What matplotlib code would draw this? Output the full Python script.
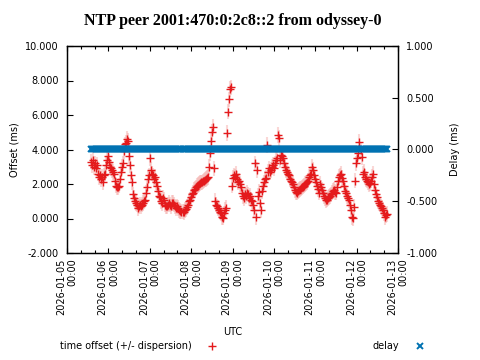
import matplotlib
matplotlib.use("Agg")
import matplotlib.pyplot as plt
import matplotlib.dates as mdates
from matplotlib.ticker import FormatStrFormatter, MultipleLocator
import pandas as pd

# muestreo del peer (cada ~35 min)
inicio = "2026-01-05 13:55"
intervalo = "35min"

# offset en ms
offset = [
    3.3, 3.1, 3.4, 3.0, 3.2, 2.9, 3.1, 2.6, 2.4, 2.5, 2.3, 2.4, 2.1, 2.5, 2.6, 3.1,
    3.4, 3.6, 3.3, 3.0, 2.9, 2.8, 2.7, 2.6, 2.2, 1.9, 1.8, 1.8, 1.9, 2.3, 2.7, 3.0,
    3.2, 3.9, 4.3, 4.4, 4.6, 4.5, 3.6, 3.1, 2.5, 2.1, 1.4, 1.2, 1.0, 0.9, 0.8, 0.6,
    0.7, 0.8, 0.7, 0.8, 0.9, 1.0, 1.1, 1.5, 1.8, 2.3, 2.5, 3.5, 2.8, 2.6, 2.5, 2.3,
    2.4, 2.1, 1.9, 1.6, 1.3, 1.25, 1.0, 0.9, 1.2, 1.1, 0.8, 0.7, 0.7, 0.8, 0.9, 0.8,
    0.7, 0.9, 0.9, 0.8, 0.7, 0.6, 0.7, 0.6, 0.5, 0.45, 0.4, 0.4, 0.38, 0.5, 0.55, 0.67,
    0.8, 1.0, 1.1, 1.25, 1.4, 1.5, 1.65, 1.7, 1.8, 1.9, 1.95, 2.0, 2.05, 2.1, 2.1, 2.15,
    2.2, 2.25, 2.3, 2.35, 2.4, 3.0, 3.8, 4.5, 5.0, 5.3, 2.9, 1.0, 0.8, 0.7, 0.6, 0.5,
    0.4, 0.3, 0.1, 0.05, 0.3, 0.5, 0.6, 4.95, 6.2, 6.9, 7.5, 7.6, 1.9, 2.35, 2.5, 2.4,
    2.6, 2.3, 2.1, 2.2, 2.0, 1.8, 1.5, 1.3, 1.2, 1.4, 1.3, 1.5, 1.4, 1.2, 1.3, 1.1,
    1.0, 0.8, 0.5, 3.2, 0.1, 2.8, 1.3, 1.55, 0.9, 0.5, 1.6, 1.9, 2.1, 2.3, 2.35, 4.26,
    2.7, 2.9, 2.7, 2.8, 3.0, 3.1, 2.9, 3.2, 3.4, 3.5, 4.84, 4.67, 3.4, 3.7, 3.6, 3.5,
    3.2, 3.0, 2.8, 2.7, 2.6, 2.5, 2.3, 2.2, 2.1, 2.0, 1.8, 1.65, 1.55, 1.5, 1.6, 1.65,
    1.7, 1.75, 1.8, 1.85, 1.9, 2.0, 2.05, 2.1, 2.2, 2.4, 2.5, 2.6, 3.0, 2.8, 2.5, 2.3,
    2.1, 1.9, 1.7, 1.5, 2.0, 1.8, 1.65, 1.5, 1.3, 1.2, 1.07, 1.1, 1.2, 1.25, 1.3, 1.4,
    1.5, 1.6, 1.65, 1.55, 1.5, 1.8, 2.2, 2.4, 2.5, 2.6, 2.35, 2.2, 1.9, 1.6, 1.5, 1.3,
    1.2, 1.07, 0.8, 0.5, 0.1, 0.03, 0.67, 2.2, 3.2, 3.5, 3.8, 4.43, 4.0, 3.57, 2.6, 2.7,
    2.4, 2.3, 2.2, 2.1, 2.0, 2.06, 2.2, 2.4, 2.6, 2.0, 1.65, 1.4, 1.25, 1.0, 0.9, 0.8,
    0.7, 0.6, 0.5, 0.3, 0.1, 0.2, 0.25,
]
dispersion = 0.45   # ms
delay_valor = 0.0   # ms, constante en todo el periodo

tiempos = pd.date_range(inicio, periods=len(offset), freq=intervalo)
delay = [delay_valor] * len(offset)

plt.rcParams["font.family"] = ["DejaVu Sans"]
plt.rcParams["font.size"] = 7

fig = plt.figure(figsize=(4.8, 3.6), dpi=100)
ax = fig.add_axes([67 / 480, 1 - 253 / 360, 331 / 480, 207 / 360])
ax2 = ax.twinx()

rojo = "#e41a1c"
azul = "#0072b2"

ax.errorbar(tiempos, offset, yerr=dispersion, fmt="none", ecolor="#f4a8a4",
            alpha=0.45, elinewidth=1.5, capsize=0)
h_off, = ax.plot(tiempos, offset, "+", color=rojo, ms=5.5, mew=1.0)
h_del, = ax2.plot(tiempos, delay, "x", color=azul, ms=5, mew=1.4)

ax.set_xlim(pd.Timestamp("2026-01-05"), pd.Timestamp("2026-01-13"))
ax.set_ylim(-2, 10)
ax2.set_ylim(-1, 1)

ax.xaxis.set_major_locator(mdates.DayLocator())
ax.xaxis.set_minor_locator(mdates.HourLocator(byhour=[8, 16]))
ax.xaxis.set_major_formatter(mdates.DateFormatter("%Y-%m-%d\n%H:%M"))
ax.yaxis.set_major_locator(MultipleLocator(2))
ax.yaxis.set_major_formatter(FormatStrFormatter("%.3f"))
ax2.yaxis.set_major_locator(MultipleLocator(0.5))
ax2.yaxis.set_major_formatter(FormatStrFormatter("%.3f"))

ax.tick_params(axis="x", which="both", direction="in", top=True, bottom=True, pad=4)
ax.tick_params(axis="x", which="major", length=3.5, width=0.8)
ax.tick_params(axis="x", which="minor", length=2.5, width=0.8)
ax.tick_params(axis="y", direction="in", length=4, width=0.8, right=False, pad=6)
ax2.tick_params(axis="y", direction="in", length=4, width=0.8, pad=6)
for etiqueta in ax.get_xticklabels():
    etiqueta.set_rotation(90)
    etiqueta.set_ha("center")
    etiqueta.set_multialignment("right")

for a in (ax, ax2):
    for lado in a.spines.values():
        lado.set_linewidth(0.9)

ax.set_title("NTP peer 2001:470:0:2c8::2 from odyssey-0", family="Liberation Serif",
             fontweight="bold", fontsize=11.5, pad=15)
ax.set_ylabel("Offset (ms)", labelpad=4)
ax2.set_ylabel("Delay (ms)", labelpad=9)
ax.set_xlabel("UTC", labelpad=9)

fig.legend([h_off, h_del], ["time offset (+/- dispersion)", "delay"],
           loc="center left", bbox_to_anchor=(60 / 480, 1 - 346 / 360),
           ncol=2, frameon=False, markerfirst=False, borderpad=0, borderaxespad=0,
           handlelength=1.0, handletextpad=1.6, columnspacing=16.0, fontsize=7)

fig.savefig("out.png", dpi=100)
